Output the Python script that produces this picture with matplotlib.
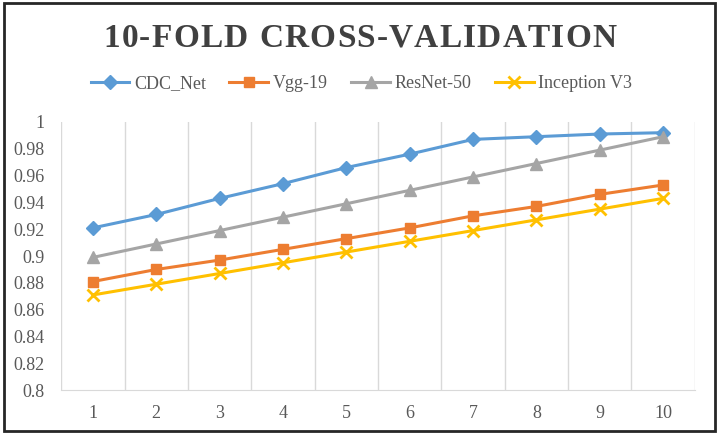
import matplotlib
matplotlib.use('Agg')
import matplotlib.pyplot as plt
from matplotlib.patches import Rectangle

# data
folds = [1, 2, 3, 4, 5, 6, 7, 8, 9, 10]
cdc_net = [0.921, 0.931, 0.943, 0.954, 0.966, 0.976, 0.987, 0.989, 0.991, 0.992]
vgg19 = [0.881, 0.890, 0.897, 0.905, 0.913, 0.921, 0.930, 0.937, 0.946, 0.953]
resnet50 = [0.899, 0.909, 0.919, 0.929, 0.939, 0.949, 0.959, 0.969, 0.979, 0.989]
inception_v3 = [0.871, 0.879, 0.887, 0.895, 0.903, 0.911, 0.919, 0.927, 0.935, 0.943]
y_ticks = [0.8, 0.82, 0.84, 0.86, 0.88, 0.9, 0.92, 0.94, 0.96, 0.98, 1]
y_labels = ['0.8', '0.82', '0.84', '0.86', '0.88', '0.9', '0.92', '0.94', '0.96', '0.98', '1']
title = '10-FOLD CROSS-VALIDATION'

plt.rcParams['font.family'] = ['Liberation Serif', 'DejaVu Serif']

fig = plt.figure(figsize=(7.2, 4.34), dpi=100)
ax = fig.add_axes([0.085, 0.101, 0.88, 0.618])

# series
x = list(range(len(folds)))
ax.plot(x, cdc_net, color='#5B9BD5', lw=2.2, marker='D', ms=7, label='CDC_Net')
ax.plot(x, vgg19, color='#ED7D31', lw=2.2, marker='s', ms=7, label='Vgg-19')
ax.plot(x, resnet50, color='#A5A5A5', lw=2.2, marker='^', ms=8, label='ResNet-50')
ax.plot(x, inception_v3, color='#FFC000', lw=2.2, marker='x', ms=9, mew=2, label='Inception V3')

# axes look
ax.set_xlim(-0.5, len(folds) - 0.5)
ax.set_ylim(0.8, 1.0)
ax.set_xticks(x)
ax.set_xticklabels([str(f) for f in folds])
ax.set_yticks(y_ticks)
ax.set_yticklabels(y_labels)
ax.set_xticks([i - 0.5 for i in range(len(folds) + 1)], minor=True)
ax.grid(True, which='minor', axis='x', color='#D9D9D9', lw=1)
ax.tick_params(which='both', length=0)
ax.tick_params(axis='both', labelsize=13, colors='#595959')
ax.tick_params(axis='x', pad=11)
ax.tick_params(axis='y', pad=12)
for side in ['top', 'right', 'left']:
    ax.spines[side].set_visible(False)
ax.spines['bottom'].set_color('#D9D9D9')

# title with a bit of letter spacing, one glyph at a time
fig.canvas.draw()
renderer = fig.canvas.get_renderer()
spacing = 1.2
pieces = []
total = 0
for ch in title:
    t = fig.text(0, 0, ch, fontsize=24, fontweight='bold', color='#404040', va='center')
    w = t.get_window_extent(renderer).width if ch != ' ' else 9
    pieces.append((t, w))
    total += w + spacing
total -= spacing
xpos = (720 - total) / 2
for t, w in pieces:
    t.set_position((xpos / 720, 0.912))
    xpos += w + spacing

fig.legend(loc='center', bbox_to_anchor=(0.502, 0.808), ncol=4, frameon=False,
           fontsize=13, handlelength=2.15, columnspacing=1.3, handletextpad=0.25,
           labelcolor='#595959')

# outer frame
fig.patches.append(Rectangle((0.005, 0.006), 0.988, 0.988, transform=fig.transFigure,
                             fill=False, edgecolor='#262626', lw=2))

fig.savefig('out.png', dpi=100)
